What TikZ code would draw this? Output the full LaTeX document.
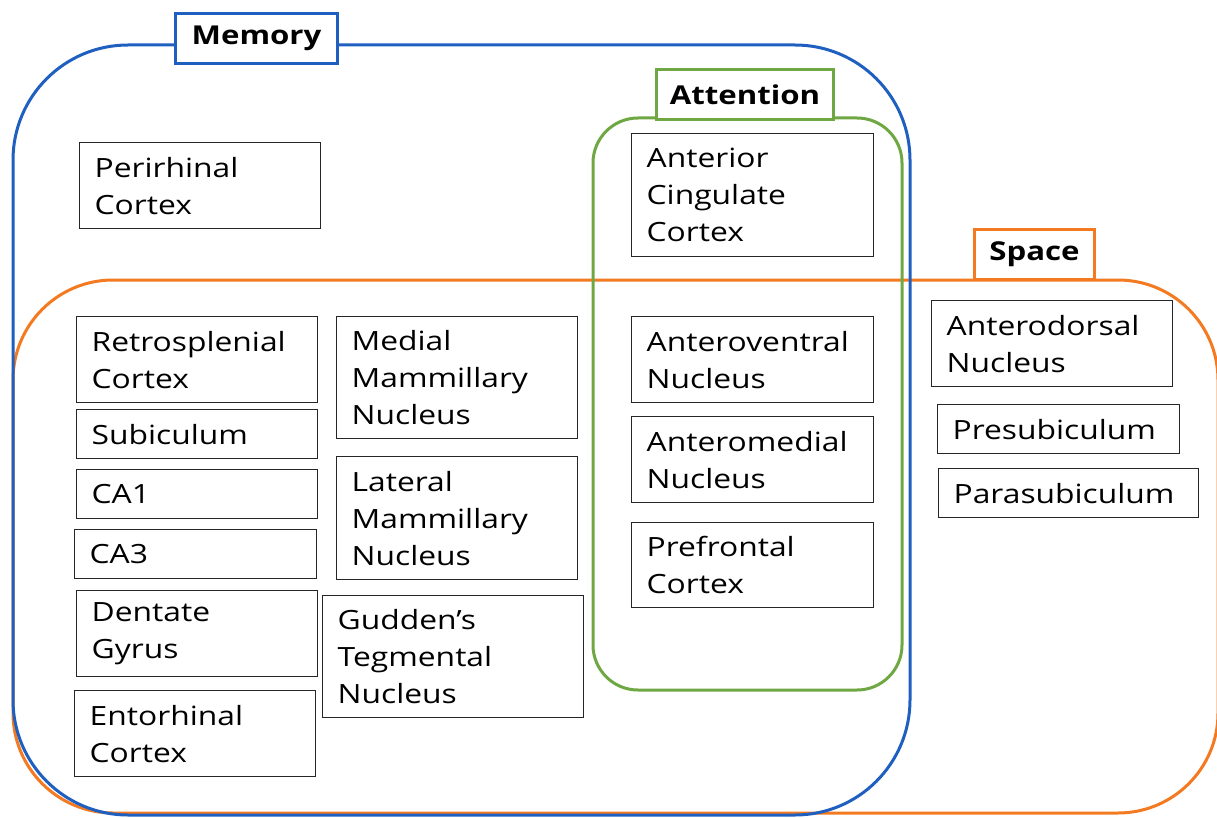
\documentclass[tikz,border=0pt]{standalone}
\usepackage{fontspec}
\setmainfont[FakeStretch=1.2]{Open Sans}
\definecolor{memblue}{HTML}{1F5FC0}
\definecolor{spaceorange}{HTML}{F37A21}
\definecolor{attgreen}{HTML}{6FA843}
\begin{document}
\begin{tikzpicture}[x=1pt,y=-1pt,
  box/.style={draw=black!85, line width=1.3pt, fill=white, rectangle, anchor=north west,
    inner xsep=15pt, inner ysep=0pt, align=left, font=\fontsize{26.5}{37}\selectfont},
  lab/.style={line width=3pt, fill=white, rectangle, inner sep=0pt, anchor=north west,
    font=\fontsize{26}{30}\selectfont\bfseries},
  region/.style={line width=3pt}]
\useasboundingbox (0,0) rectangle (1217,818);
% regions
\draw[region, spaceorange, rounded corners=100] (13,280) rectangle (1218,813);
\draw[region, memblue, rounded corners=115] (13,45) rectangle (910,815);
\draw[region, attgreen, rounded corners=45] (593,118) rectangle (902,690);
% labels
\node[lab, draw=memblue, minimum width=162, minimum height=50] (memlbl) at (174,12) {Memory};
\node[lab, draw=attgreen, minimum width=177, minimum height=50] (attlbl) at (655,68) {Attention};
\node[lab, draw=spaceorange, minimum width=120, minimum height=50] (splbl) at (973,228) {Space};
% memory only
\node[box, minimum width=241, minimum height=86, text width=211pt] (peri) at (79,142) {Perirhinal\\Cortex};
% memory + space
\node[box, minimum width=241, minimum height=86, text width=211pt] (retro) at (76,316) {Retrosplenial\\Cortex};
\node[box, minimum width=241, minimum height=49, text width=211pt] (subic) at (76,409) {Subiculum};
\node[box, minimum width=241, minimum height=49, text width=211pt] (ca1) at (76,469) {CA1};
\node[box, minimum width=242, minimum height=49, text width=212pt] (ca3) at (74,529) {CA3};
\node[box, minimum width=241, minimum height=86, text width=211pt] (dent) at (76,590) {Dentate\\Gyrus};
\node[box, minimum width=241, minimum height=86, text width=211pt] (ento) at (74,690) {Entorhinal\\Cortex};
\node[box, minimum width=241, minimum height=122, text width=211pt] (medm) at (336,316) {Medial\\Mammillary\\Nucleus};
\node[box, minimum width=241, minimum height=123, text width=211pt] (latm) at (336,456) {Lateral\\Mammillary\\Nucleus};
\node[box, minimum width=261, minimum height=122, text width=231pt] (gudd) at (322,595) {Gudden’s\\Tegmental\\Nucleus};
% attention
\node[box, minimum width=242, minimum height=123, text width=212pt] (acc) at (631,133) {Anterior\\Cingulate\\Cortex};
\node[box, minimum width=242, minimum height=86, text width=212pt] (av) at (631,316) {Anteroventral\\Nucleus};
\node[box, minimum width=242, minimum height=86, text width=212pt] (am) at (631,416) {Anteromedial\\Nucleus};
\node[box, minimum width=242, minimum height=85, text width=212pt] (pfc) at (631,522) {Prefrontal\\Cortex};
% space only
\node[box, minimum width=241, minimum height=86, text width=211pt] (ad) at (931,300) {Anterodorsal\\Nucleus};
\node[box, minimum width=242, minimum height=49, text width=212pt] (presub) at (937,404) {Presubiculum};
\node[box, minimum width=260, minimum height=49, text width=230pt] (parasub) at (938,468) {Parasubiculum};
\end{tikzpicture}
\end{document}
